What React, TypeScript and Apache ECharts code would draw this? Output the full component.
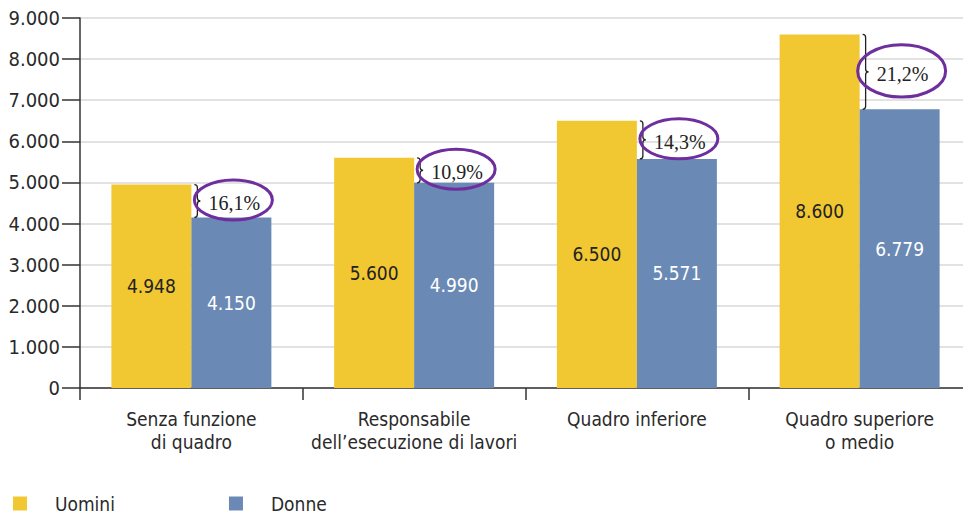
import React, { useEffect, useRef } from "react";
import * as echarts from "echarts";

const categories = [
  "Senza funzione\ndi quadro",
  "Responsabile\ndell’esecuzione di lavori",
  "Quadro inferiore",
  "Quadro superiore\no medio",
];
const uomini = [4948, 5600, 6500, 8600];
const donne = [4150, 4990, 5571, 6779];
const gapLabels = ["16,1%", "10,9%", "14,3%", "21,2%"];
const yTicks = [0, 1000, 2000, 3000, 4000, 5000, 6000, 7000, 8000, 9000];

const SANS = "'Liberation Sans Narrow', 'DejaVu Sans Condensed', 'Roboto', sans-serif";
const SERIF = "'Liberation Serif', 'DejaVu Serif', serif";
const YELLOW = "#F2C832";
const BLUE = "#6A8AB5";
const PURPLE = "#6E2E9E";

const fmt = (n: number) => String(n).replace(/\B(?=(\d{3})+(?!\d))/g, ".");

export default function App() {
  const ref = useRef<HTMLDivElement>(null);
  useEffect(() => {
    if (!ref.current) return;
    const chart = echarts.init(ref.current, undefined, { renderer: "svg" });
    const annData = categories.map((_, i) => [i, uomini[i], donne[i], i]);
    chart.setOption({
      animation: false,
      backgroundColor: "#ffffff",
      grid: { left: 80, right: 0, top: 18, bottom: 127, containLabel: false },
      legend: {
        data: ["Uomini", "Donne"],
        left: 13,
        top: 494,
        padding: 0,
        icon: "rect",
        itemWidth: 14,
        itemHeight: 14,
        itemGap: 114,
        textStyle: {
          fontFamily: SANS,
          fontSize: 19,
          lineHeight: 17,
          color: "#2a2a2a",
          padding: [0, 0, 0, 23],
        },
      },
      xAxis: {
        type: "category",
        data: categories,
        axisLine: { lineStyle: { color: "#333", width: 1.5 } },
        axisTick: { show: true, length: 12, alignWithLabel: false, interval: 0, lineStyle: { color: "#333", width: 1.5 } },
        axisLabel: {
          interval: 0,
          margin: 19,
          fontFamily: SANS,
          fontSize: 19,
          lineHeight: 23,
          color: "#2a2a2a",
        },
      },
      yAxis: {
        type: "value",
        min: yTicks[0],
        max: yTicks[yTicks.length - 1],
        interval: 1000,
        axisLine: { show: true, lineStyle: { color: "#333", width: 1.5 } },
        axisTick: { show: true, length: 18, lineStyle: { color: "#333", width: 1.5 } },
        axisLabel: {
          margin: 20,
          fontFamily: SANS,
          fontSize: 20,
          color: "#2a2a2a",
          formatter: (v: number) => fmt(v),
        },
        splitLine: { lineStyle: { color: "#d9d9d9", width: 1.5 } },
      },
      series: [
        {
          name: "Uomini",
          type: "bar",
          data: uomini,
          barWidth: 80,
          barGap: "0%",
          itemStyle: { color: YELLOW },
          label: {
            show: true,
            position: "inside",
            fontFamily: SANS,
            fontSize: 19,
            color: "#222",
            formatter: (p: any) => fmt(p.value),
          },
        },
        {
          name: "Donne",
          type: "bar",
          data: donne,
          barWidth: 80,
          barGap: "0%",
          itemStyle: { color: BLUE },
          label: {
            show: true,
            position: "inside",
            fontFamily: SANS,
            fontSize: 19,
            color: "#ffffff",
            formatter: (p: any) => fmt(p.value),
          },
        },
        {
          name: "gap",
          type: "custom",
          z: 10,
          data: annData,
          renderItem: (params: any, api: any) => {
            const idx = api.value(0);
            const top = api.coord([idx, api.value(1)]);
            const bot = api.coord([idx, api.value(2)]);
            const x0 = top[0] + 3;
            const y1 = top[1];
            const y2 = bot[1];
            const m = (y1 + y2) / 2;
            const path =
              `M${x0} ${y1} Q${x0 + 3} ${y1} ${x0 + 3} ${y1 + 3} L${x0 + 3} ${m - 3} ` +
              `Q${x0 + 3} ${m} ${x0 + 6} ${m} Q${x0 + 3} ${m} ${x0 + 3} ${m + 3} ` +
              `L${x0 + 3} ${y2 - 3} Q${x0 + 3} ${y2} ${x0} ${y2}`;
            const gap = y2 - y1;
            const ry = Math.max(20, gap * 0.35);
            const rx = ry > 22 ? 44 : 39;
            const cx = top[0] + 42;
            return {
              type: "group",
              children: [
                {
                  type: "path",
                  shape: { pathData: path },
                  style: { fill: "none", stroke: "#222", lineWidth: 1.3 },
                },
                {
                  type: "text",
                  x: cx + 1,
                  y: m + 2,
                  style: {
                    text: gapLabels[api.value(3)],
                    fontFamily: SERIF,
                    fontSize: 20,
                    fill: "#222",
                    align: "center",
                    verticalAlign: "middle",
                  },
                },
                {
                  type: "ellipse",
                  shape: { cx: cx, cy: m - 1, rx: rx, ry: ry },
                  style: { fill: "none", stroke: PURPLE, lineWidth: 3 },
                },
              ],
            };
          },
        },
      ],
    });
    return () => chart.dispose();
  }, []);
  return (
    <div
      ref={ref}
      style={{ position: "fixed", left: 0, top: 0, width: 971, height: 515 }}
    />
  );
}
